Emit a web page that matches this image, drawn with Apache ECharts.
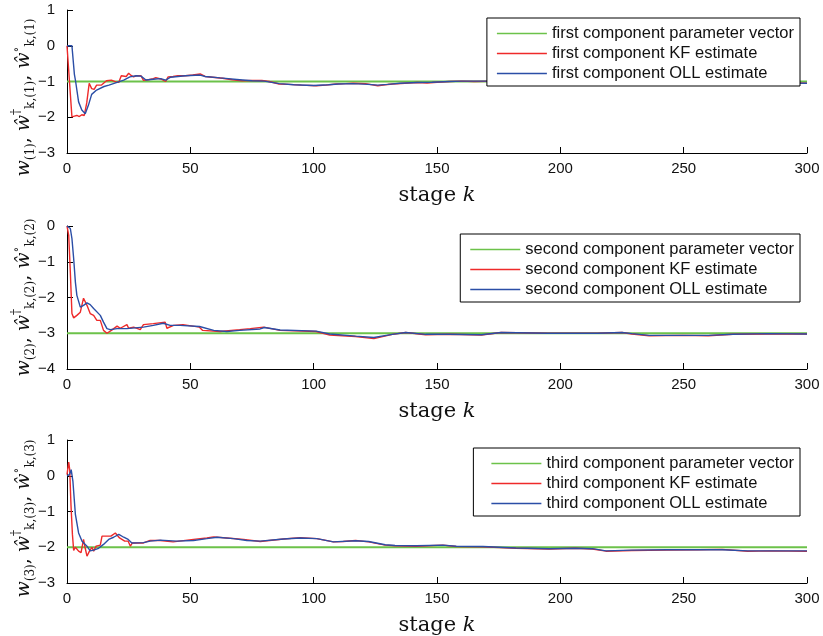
<!DOCTYPE html>
<html><head><meta charset="utf-8">
<script src="https://cdn.jsdelivr.net/npm/echarts@6/dist/echarts.min.js"></script>
<style>html,body{margin:0;padding:0;background:#fff}#c{width:823px;height:636px}</style>
</head><body><div id="c"></div>
<script>
// ---------- data ----------
const xTicks = [0, 50, 100, 150, 200, 250, 300];
const paramK = [0, 300];
const param1 = [-1, -1];
const param2 = [-3, -3];
const param3 = [-2, -2];

const kf1 = [[0,0],[2,-1.99],[3,-1.97],[4,-1.95],[5,-1.98],[6,-1.93],[7,-1.95],[8,-1.6],[9,-1.05],[10,-1.2],[11,-1.22],[12,-1.1],[14,-1.1],[16,-0.98],[18,-0.96],[20,-1.02],[21,-1.02],[22,-0.84],[24,-0.86],[25,-0.77],[26,-0.83],[27,-0.87],[28,-0.84],[30,-0.84],[31,-0.97],[33,-0.95],[35,-0.92],[36,-0.89],[38,-0.93],[40,-1.0],[41,-0.87],[43,-0.86],[45,-0.84],[48,-0.84],[51,-0.82],[54,-0.79],[56,-0.86],[59,-0.88],[63,-0.91],[67,-0.95],[71,-0.98],[75,-0.97],[79,-0.97],[82,-1.0],[86,-1.07],[90,-1.08],[95,-1.1],[101,-1.12],[105,-1.1],[109,-1.07],[113,-1.06],[116,-1.05],[121,-1.06],[126,-1.12],[129,-1.09],[132,-1.07],[137,-1.05],[142,-1.03],[146,-1.04],[150,-1.02],[155,-1.0],[160,-0.99],[165,-1.0],[175,-0.99],[200,-1.0],[250,-1.01],[285,-1.02],[290,-1.03],[295,-1.04],[300,-1.05]];
const oll1 = [[0,0],[2,0],[3,-0.8],[3.5,-1.0],[4.7,-1.57],[6,-1.8],[7.4,-1.9],[8,-1.85],[8.7,-1.66],[10,-1.36],[12,-1.24],[15,-1.14],[17,-1.1],[20,-1.03],[23,-0.96],[25.5,-0.87],[28,-0.84],[30,-0.85],[32,-0.96],[36,-0.93],[38,-0.92],[40,-0.96],[42,-0.88],[48,-0.84],[54,-0.82],[56,-0.86],[62,-0.9],[70,-0.95],[75,-0.98],[80,-0.99],[86,-1.06],[92,-1.09],[100,-1.11],[106,-1.09],[110,-1.07],[116,-1.06],[122,-1.08],[126,-1.1],[130,-1.08],[135,-1.05],[142,-1.03],[148,-1.02],[155,-1.0],[160,-0.99],[170,-0.99],[200,-1.0],[250,-1.01],[285,-1.02],[292,-1.04],[300,-1.05]];

const kf2 = [[0,0],[0.7,-0.26],[1.35,-1.29],[2,-2.45],[2.7,-2.57],[4,-2.5],[5.4,-2.41],[6.7,-2.02],[8.1,-2.22],[9.4,-2.45],[10.8,-2.5],[12.1,-2.64],[13.5,-2.64],[14.8,-2.92],[16.2,-3.0],[18,-2.92],[20.3,-2.8],[21.6,-2.86],[24.3,-2.76],[25,-2.86],[27,-2.83],[29.7,-2.9],[31,-2.76],[35,-2.73],[39.8,-2.69],[40.5,-2.86],[43.2,-2.78],[47,-2.76],[53.7,-2.83],[55,-2.92],[62,-2.95],[70,-2.9],[74.3,-2.87],[79.7,-2.83],[86.4,-2.92],[101,-2.95],[106.5,-3.05],[117,-3.09],[124.4,-3.15],[131.9,-3.03],[137.3,-2.98],[145.4,-3.04],[154.9,-3.03],[168,-3.05],[176,-2.98],[195,-3.0],[215,-3.0],[225,-2.98],[229,-3.02],[236,-3.07],[249.6,-3.06],[260,-3.07],[270,-3.03],[284,-3.02],[300,-3.02]];
const oll2 = [[0,0],[1.35,-0.07],[2,-0.35],[2.7,-0.91],[3.4,-1.57],[4,-1.94],[5.4,-2.27],[6.7,-2.22],[8.1,-2.15],[9.4,-2.2],[10.8,-2.31],[13.5,-2.5],[14.8,-2.69],[16.2,-2.87],[17.5,-2.9],[20.3,-2.87],[24.3,-2.87],[31,-2.83],[35,-2.78],[39,-2.72],[41.8,-2.78],[45.9,-2.78],[53.7,-2.81],[59.5,-2.92],[64.8,-2.95],[70,-2.92],[78.3,-2.88],[80,-2.84],[86.4,-2.91],[101,-2.94],[106.5,-3.02],[117,-3.08],[124.4,-3.12],[131.9,-3.03],[137.3,-2.98],[145.4,-3.03],[154.9,-3.03],[168,-3.04],[176,-2.98],[195,-3.0],[215,-3.0],[225,-2.98],[229,-3.01],[236,-3.06],[249.6,-3.06],[260,-3.06],[270,-3.03],[284,-3.01],[300,-3.02]];

const kf3 = [[0,0.03],[0.7,0.38],[1.1,0.17],[1.6,-0.8],[2.2,-1.64],[2.7,-2.09],[3.4,-2.0],[4.7,-2.11],[5.7,-2.15],[6.7,-1.78],[7.3,-2.0],[8.1,-2.25],[9.1,-2.11],[10.1,-2.0],[10.8,-2.11],[11.8,-1.97],[13.5,-1.94],[14.2,-1.69],[17.8,-1.69],[19.6,-1.6],[21.3,-1.74],[23.4,-1.83],[24.8,-1.83],[25.7,-1.97],[26.5,-1.88],[31,-1.88],[33.7,-1.81],[37.8,-1.81],[43,-1.85],[51.3,-1.78],[56.7,-1.74],[59.4,-1.71],[64.8,-1.74],[71.6,-1.78],[78.3,-1.84],[87.8,-1.77],[94.5,-1.73],[101.3,-1.76],[108,-1.85],[112,-1.84],[117,-1.81],[122.3,-1.85],[129,-1.94],[133,-1.96],[141.6,-1.97],[152.4,-1.94],[157.8,-1.98],[168.6,-1.99],[182,-2.03],[195.5,-2.05],[206,-2.03],[213,-2.05],[218.5,-2.11],[229,-2.09],[243,-2.08],[256,-2.07],[265.6,-2.06],[276,-2.11],[285,-2.1],[300,-2.11]];
const oll3 = [[0,0],[1,0.03],[1.7,0.17],[2.4,-0.16],[3.4,-1.08],[4.7,-1.6],[6.1,-1.83],[8.1,-1.97],[9.4,-2.1],[10.8,-2.08],[12.8,-2.03],[14.8,-1.92],[16.9,-1.78],[18.9,-1.72],[21,-1.64],[23,-1.72],[24.8,-1.78],[26.3,-1.88],[31,-1.87],[33.7,-1.83],[37.8,-1.8],[44.5,-1.83],[51.3,-1.81],[56.7,-1.76],[60.8,-1.72],[67.5,-1.76],[72.9,-1.81],[78.3,-1.83],[87.8,-1.77],[94.5,-1.74],[101.3,-1.76],[108,-1.85],[117,-1.82],[122.3,-1.84],[129,-1.93],[133,-1.95],[141.6,-1.96],[152.4,-1.94],[157.8,-1.97],[168.6,-1.98],[182,-2.02],[195.5,-2.04],[206,-2.03],[213,-2.04],[218.5,-2.1],[229,-2.08],[243,-2.07],[256,-2.07],[265.6,-2.07],[276,-2.1],[285,-2.1],[300,-2.1]];

const ordinals = ['first', 'second', 'third'];
const yRanges = [[-3, 1], [-4, 0], [-3, 1]];
const params = [param1, param2, param3];
const kfs = [kf1, kf2, kf3];
const olls = [oll1, oll2, oll3];

// ---------- layout ----------
const gridTops = [10, 226, 440];
const gridH = 143;
const legendTops = [18, 234, 448];
const legendPadLeft = [10, 10, 18];
const nameShift = [32, 0, 14];   // local right padding => moves rotated name downward
const GREEN = '#6cc24a', RED = '#ee2a2a', BLUE = '#2b4ea6';

const chart = echarts.init(document.getElementById('c'));
const fmt = v => String(v).replace('-', '\u2212');
const grids = [], xAxes = [], yAxes = [], series = [], legends = [];

for (let i = 0; i < 3; i++) {
  const n = i + 1;
  grids.push({ left: 67, width: 740, top: gridTops[i], height: gridH, outerBoundsMode: 'none', containLabel: false });
  xAxes.push({
    type: 'value', gridIndex: i, min: 0, max: 300, interval: 50,
    axisLine: { onZero: false, lineStyle: { color: '#000', width: 1 } },
    axisTick: { inside: true, length: 6, lineStyle: { color: '#000' } },
    axisLabel: { color: '#111', fontSize: 15, fontFamily: 'Liberation Sans, Arial', margin: 8 },
    splitLine: { show: false },
    name: '{r|stage }{k|k}', nameLocation: 'middle', nameGap: 32, nameMoveOverlap: false,
    nameTextStyle: { rich: {
      r: { fontFamily: 'DejaVu Serif', fontSize: 21, color: '#111' },
      k: { fontFamily: 'DejaVu Serif', fontStyle: 'italic', fontSize: 21, color: '#111' } } }
  });
  yAxes.push({
    type: 'value', gridIndex: i, min: yRanges[i][0], max: yRanges[i][1], interval: 1,
    axisLine: { show: true, onZero: false, lineStyle: { color: '#000', width: 1 } },
    axisTick: { show: true, inside: true, length: 6, lineStyle: { color: '#000' } },
    axisLabel: { color: '#111', fontSize: 15, fontFamily: 'Liberation Sans, Arial', margin: 12, formatter: fmt },
    splitLine: { show: false },
    name: `{w|w}{s|(${n})}{c|, }{w|ŵ}{p|†}{s|k,(${n})}{c|, }{w|ŵ}{p|∘}{s|k,(${n})}`,
    nameLocation: 'middle', nameRotate: 90, nameGap: 30, nameMoveOverlap: false,
    nameTextStyle: { padding: [0, nameShift[i], 0, 0], rich: {
      w: { fontFamily: 'DejaVu Serif', fontStyle: 'italic', fontSize: 19, lineHeight: 26, color: '#111' },
      c: { fontFamily: 'DejaVu Serif', fontSize: 19, lineHeight: 26, color: '#111' },
      s: { fontFamily: 'DejaVu Serif', fontSize: 12, lineHeight: 12, verticalAlign: 'bottom', color: '#111' },
      p: { fontFamily: 'DejaVu Serif', fontSize: 12, lineHeight: 12, verticalAlign: 'top', color: '#111' } } }
  });
  const names = [`${ordinals[i]} component parameter vector`, `${ordinals[i]} component KF estimate`, `${ordinals[i]} component OLL estimate`];
  series.push({ name: names[0], type: 'line', xAxisIndex: i, yAxisIndex: i, symbol: 'none', animation: false,
    data: paramK.map((k, j) => [k, params[i][j]]), lineStyle: { color: GREEN, width: 1.8 }, itemStyle: { color: GREEN } });
  series.push({ name: names[1], type: 'line', xAxisIndex: i, yAxisIndex: i, symbol: 'none', animation: false,
    data: kfs[i], lineStyle: { color: RED, width: 1.4 }, itemStyle: { color: RED } });
  series.push({ name: names[2], type: 'line', xAxisIndex: i, yAxisIndex: i, symbol: 'none', animation: false,
    data: olls[i], lineStyle: { color: BLUE, width: 1.4 }, itemStyle: { color: BLUE } });
  legends.push({
    data: names, orient: 'vertical', right: 23, top: legendTops[i], z: 10,
    backgroundColor: '#fff', borderColor: '#000', borderWidth: 1, borderRadius: 0,
    padding: [7, 6, 4, legendPadLeft[i]], itemWidth: 50, itemHeight: 1.5, itemGap: 3, icon: 'rect',
    selectedMode: false,
    textStyle: { fontSize: 16.5, lineHeight: 16, fontFamily: 'Liberation Sans, Arial', color: '#111' }
  });
}

chart.setOption({ animation: false, backgroundColor: '#fff', grid: grids, xAxis: xAxes, yAxis: yAxes, series, legend: legends });
</script></body></html>
